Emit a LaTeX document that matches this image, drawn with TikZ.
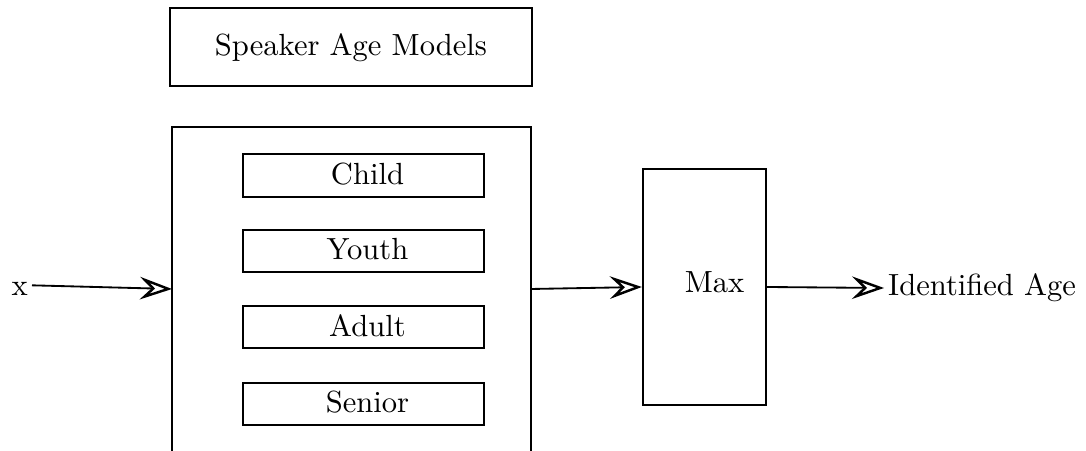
\documentclass[tikz,border=0pt]{standalone}
\usetikzlibrary{arrows.meta,fit}
\begin{document}
\begin{tikzpicture}[x=0.327pt,y=-0.327pt,
  line width=0.75pt,
  box/.style={draw,line width=0.75pt,inner sep=0pt,rectangle},
  flow/.style={-{Stealth[open,length=10.5pt,width=7.4pt,inset=3.8pt,line width=0.8pt]},line width=0.6pt},
  lbl/.style={inner sep=1pt}]
\useasboundingbox (0,0) rectangle (1086,451);
\clip (0,0) rectangle (1086,451);
% title box
\node[box,fit={(170,8) (532,86)}] (title) {};
\node[lbl] (titletext) at ([yshift=-0.3pt]title.center) {Speaker Age Models};
% container of the age models (runs past the lower edge)
\coordinate (mtl) at (172,127);
\coordinate (mtr) at (531,127);
\draw (172,470) -- (mtl) -- (mtr) -- (531,470);
\coordinate (min) at (172,289);
\coordinate (mout) at (531,289);
% individual models
\node[box,fit={(243,154) (484,197)}] (child) {};
\node[box,fit={(243,230) (484,272)}] (youth) {};
\node[box,fit={(243,306) (484,348)}] (adult) {};
\node[box,fit={(243,383) (484,425)}] (senior) {};
\node[lbl] (childtext) at ([xshift=1.3pt,yshift=0.5pt]child.center) {Child};
\node[lbl] (youthtext) at ([xshift=1.3pt,yshift=0.5pt]youth.center) {Youth};
\node[lbl] (adulttext) at ([xshift=1.3pt,yshift=0.5pt]adult.center) {Adult};
\node[lbl] (seniortext) at ([xshift=1.3pt,yshift=0.5pt]senior.center) {Senior};
% max selector
\node[box,fit={(643,169) (766,405)}] (max) {};
\node[lbl] (maxtext) at ([xshift=3.3pt,yshift=1.5pt]max.center) {Max};
% input and output
\node[lbl,anchor=east] (x) at (32,289) {x};
\node[lbl,anchor=west] (out) at (884,288) {Identified Age};
\draw[flow] ([yshift=1.2pt]x.east) -- (min);
\draw[flow] (mout) -- (max.west);
\draw[flow] (max.east) -- (out.west);
\end{tikzpicture}
\end{document}
